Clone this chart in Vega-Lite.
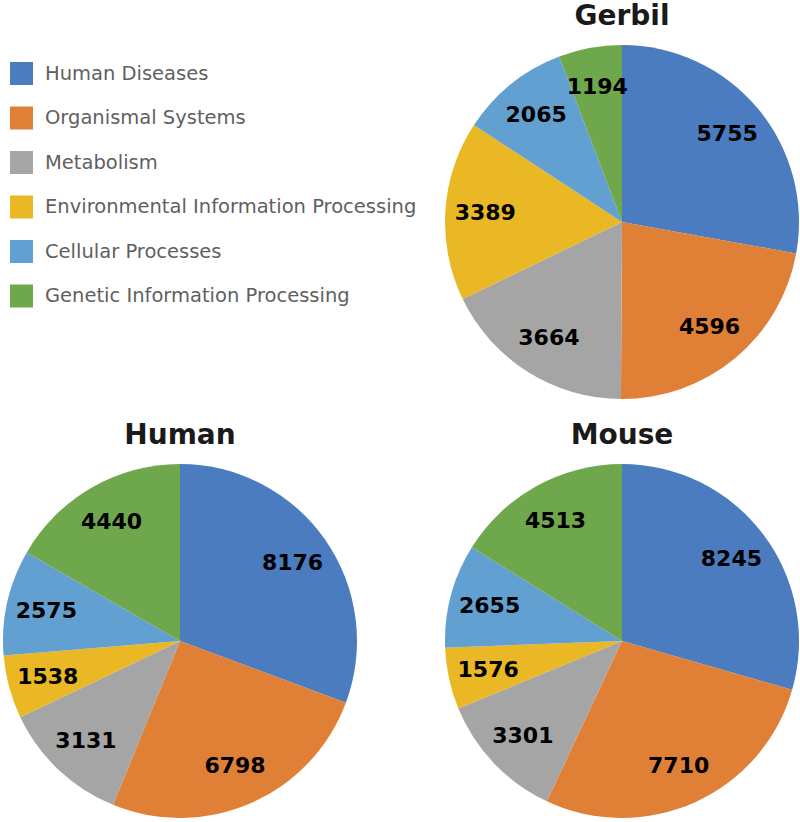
{
  "$schema": "https://vega.github.io/schema/vega-lite/v6.json",
  "background": "white",
  "padding": {"left": 3, "top": 3, "right": 0, "bottom": 0},
  "columns": 2,
  "spacing": {"row": 65, "column": 88},
  "bounds": "flush",
  "datasets": {
    "pies": [
      {"species": "Gerbil", "rank": 1, "category": "Human Diseases", "value": 5755},
      {"species": "Gerbil", "rank": 2, "category": "Organismal Systems", "value": 4596},
      {"species": "Gerbil", "rank": 3, "category": "Metabolism", "value": 3664},
      {"species": "Gerbil", "rank": 4, "category": "Environmental Information Processing", "value": 3389},
      {"species": "Gerbil", "rank": 5, "category": "Cellular Processes", "value": 2065},
      {"species": "Gerbil", "rank": 6, "category": "Genetic Information Processing", "value": 1194},
      {"species": "Human", "rank": 1, "category": "Human Diseases", "value": 8176},
      {"species": "Human", "rank": 2, "category": "Organismal Systems", "value": 6798},
      {"species": "Human", "rank": 3, "category": "Metabolism", "value": 3131},
      {"species": "Human", "rank": 4, "category": "Environmental Information Processing", "value": 1538},
      {"species": "Human", "rank": 5, "category": "Cellular Processes", "value": 2575},
      {"species": "Human", "rank": 6, "category": "Genetic Information Processing", "value": 4440},
      {"species": "Mouse", "rank": 1, "category": "Human Diseases", "value": 8245},
      {"species": "Mouse", "rank": 2, "category": "Organismal Systems", "value": 7710},
      {"species": "Mouse", "rank": 3, "category": "Metabolism", "value": 3301},
      {"species": "Mouse", "rank": 4, "category": "Environmental Information Processing", "value": 1576},
      {"species": "Mouse", "rank": 5, "category": "Cellular Processes", "value": 2655},
      {"species": "Mouse", "rank": 6, "category": "Genetic Information Processing", "value": 4513}
    ]
  },
  "config": {
    "view": {"stroke": null},
    "title": {"font": "DejaVu Sans", "fontSize": 28, "fontWeight": "bold", "color": "#1a1a1a", "offset": 14},
    "legend": {
      "orient": "none",
      "legendX": 7,
      "legendY": 17,
      "padding": 0,
      "symbolType": "square",
      "symbolSize": 529,
      "symbolStrokeWidth": 0,
      "symbolOpacity": 1,
      "labelFont": "DejaVu Sans",
      "labelFontSize": 19.5,
      "labelColor": "#5f5f5f",
      "labelOffset": 12,
      "labelLimit": 500,
      "rowPadding": 21.5,
      "title": null
    }
  },
  "concat": [
    {
      "width": 354,
      "height": 354,
      "data": {"values": []},
      "mark": "point"
    },
    {
      "title": "Gerbil",
      "width": 354,
      "height": 354,
      "data": {"name": "pies"},
      "transform": [{"filter": "datum.species === 'Gerbil'"}],
      "encoding": {
        "theta": {"field": "value", "type": "quantitative", "stack": true},
        "order": {"field": "rank", "type": "quantitative", "sort": "ascending"},
        "color": {
          "field": "category",
          "type": "nominal",
          "sort": ["Human Diseases", "Organismal Systems", "Metabolism", "Environmental Information Processing", "Cellular Processes", "Genetic Information Processing"],
          "scale": {
            "domain": ["Human Diseases", "Organismal Systems", "Metabolism", "Environmental Information Processing", "Cellular Processes", "Genetic Information Processing"],
            "range": ["#4A7CBF", "#E07F36", "#A5A5A5", "#E9B824", "#63A0D2", "#6FA74C"]
          },
          "legend": {"title": null}
        }
      },
      "layer": [
        {"mark": {"type": "arc", "outerRadius": 177}},
        {
          "mark": {"type": "text", "radius": 137, "font": "DejaVu Sans", "fontWeight": "bold", "fontSize": 22},
          "encoding": {
            "text": {"field": "value", "type": "quantitative", "format": "d"},
            "fill": {"value": "#000000"}
          }
        }
      ]
    },
    {
      "title": "Human",
      "width": 354,
      "height": 354,
      "data": {"name": "pies"},
      "transform": [{"filter": "datum.species === 'Human'"}],
      "encoding": {
        "theta": {"field": "value", "type": "quantitative", "stack": true},
        "order": {"field": "rank", "type": "quantitative", "sort": "ascending"},
        "color": {
          "field": "category",
          "type": "nominal",
          "sort": ["Human Diseases", "Organismal Systems", "Metabolism", "Environmental Information Processing", "Cellular Processes", "Genetic Information Processing"],
          "scale": {
            "domain": ["Human Diseases", "Organismal Systems", "Metabolism", "Environmental Information Processing", "Cellular Processes", "Genetic Information Processing"],
            "range": ["#4A7CBF", "#E07F36", "#A5A5A5", "#E9B824", "#63A0D2", "#6FA74C"]
          },
          "legend": null
        }
      },
      "layer": [
        {"mark": {"type": "arc", "outerRadius": 177}},
        {
          "mark": {"type": "text", "radius": 137, "font": "DejaVu Sans", "fontWeight": "bold", "fontSize": 22},
          "encoding": {
            "text": {"field": "value", "type": "quantitative", "format": "d"},
            "fill": {"value": "#000000"}
          }
        }
      ]
    },
    {
      "title": "Mouse",
      "width": 354,
      "height": 354,
      "data": {"name": "pies"},
      "transform": [{"filter": "datum.species === 'Mouse'"}],
      "encoding": {
        "theta": {"field": "value", "type": "quantitative", "stack": true},
        "order": {"field": "rank", "type": "quantitative", "sort": "ascending"},
        "color": {
          "field": "category",
          "type": "nominal",
          "sort": ["Human Diseases", "Organismal Systems", "Metabolism", "Environmental Information Processing", "Cellular Processes", "Genetic Information Processing"],
          "scale": {
            "domain": ["Human Diseases", "Organismal Systems", "Metabolism", "Environmental Information Processing", "Cellular Processes", "Genetic Information Processing"],
            "range": ["#4A7CBF", "#E07F36", "#A5A5A5", "#E9B824", "#63A0D2", "#6FA74C"]
          },
          "legend": null
        }
      },
      "layer": [
        {"mark": {"type": "arc", "outerRadius": 177}},
        {
          "mark": {"type": "text", "radius": 137, "font": "DejaVu Sans", "fontWeight": "bold", "fontSize": 22},
          "encoding": {
            "text": {"field": "value", "type": "quantitative", "format": "d"},
            "fill": {"value": "#000000"}
          }
        }
      ]
    }
  ]
}
